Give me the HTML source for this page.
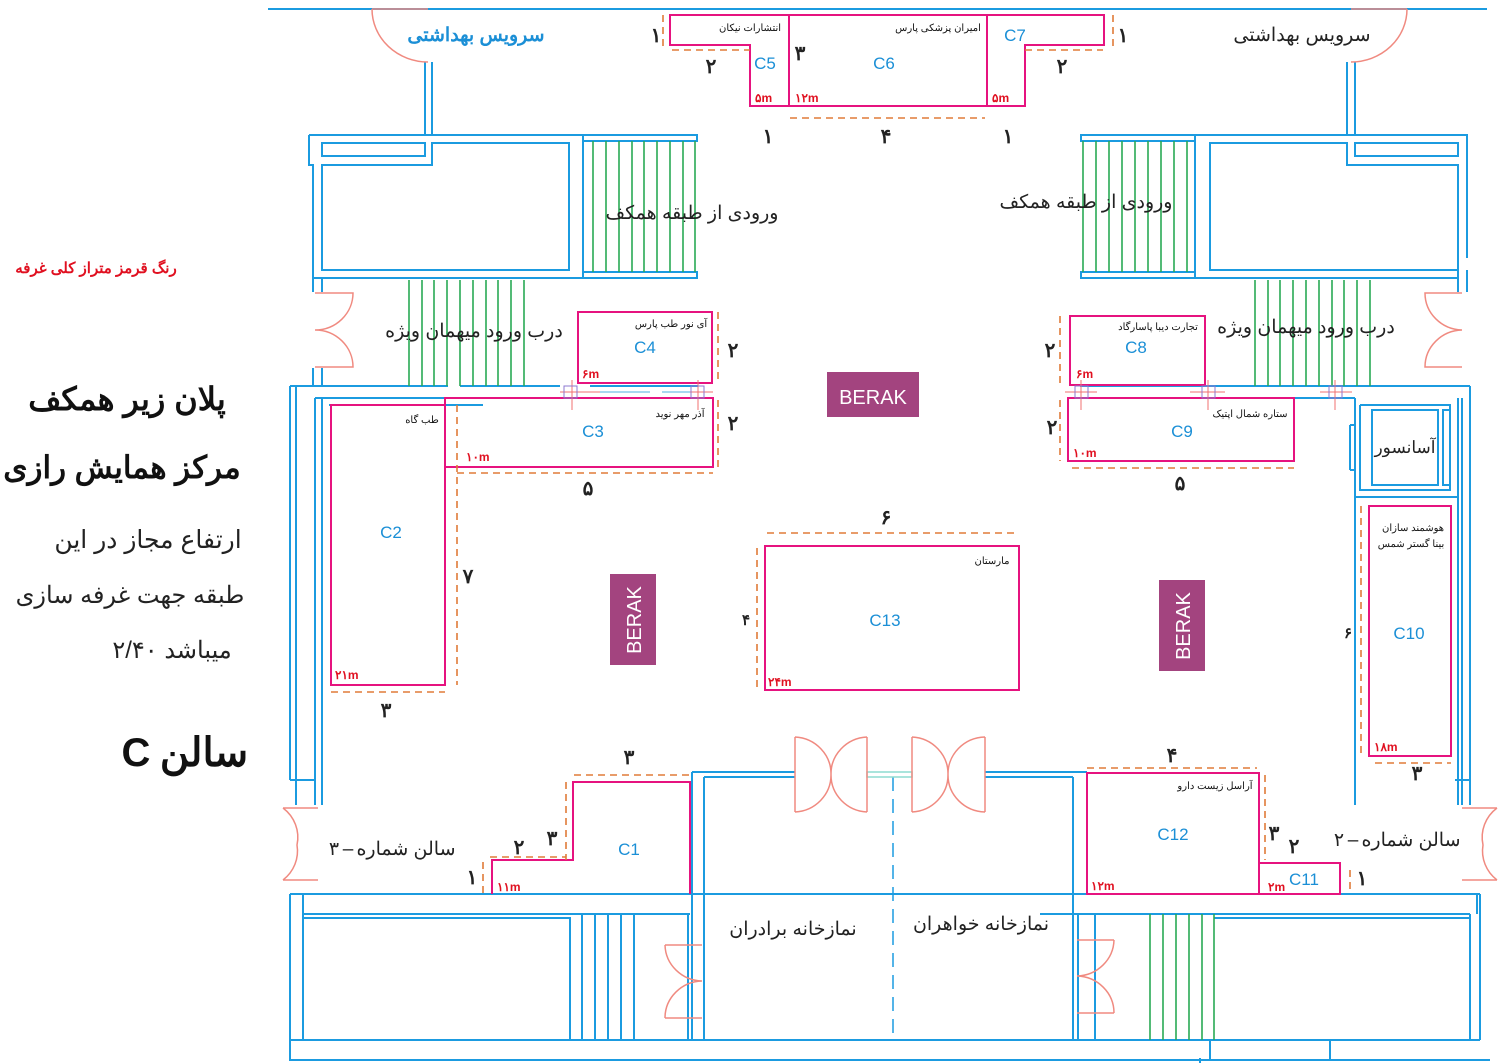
<!DOCTYPE html>
<html><head><meta charset="utf-8"><style>
html,body{margin:0;padding:0;background:#fff}
svg{display:block}
text{font-family:"Liberation Sans","Noto Sans CJK SC",sans-serif}
.r text,text.r{direction:rtl;unicode-bidi:embed}
</style></head><body>
<svg width="1500" height="1063" viewBox="0 0 1500 1063" xmlns="http://www.w3.org/2000/svg">
<g fill="none" stroke="#1b9be0" stroke-width="2">
<line x1="268" y1="9" x2="1487" y2="9"/>
<path d="M425 62 V135 M432 62 V135 M309 135 H697 M309 135 V165 H313 V278 H583"/>
<rect x="322" y="143" width="103" height="13"/>
<path d="M432 143 H569 V270 H322 V165 H432 Z"/>
<rect x="583" y="135" width="114" height="6"/>
<rect x="583" y="272" width="114" height="6"/>
<line x1="583" y1="135" x2="583" y2="278"/>
<path d="M313 278 V292 M322 278 V292 M313 368 V386 M322 368 V386"/>
<path d="M1347 62 V135 M1355 62 V135 M1081 135 H1467 V258 M1467 270 V292"/>
<rect x="1355" y="143" width="103" height="13"/>
<path d="M1347 143 H1210 V270 H1458 V165 H1347 Z"/>
<rect x="1081" y="135" width="114" height="6"/>
<rect x="1081" y="272" width="114" height="6"/>
<path d="M1195 135 V278 M1195 278 H1458 M1458 270 V292"/>
<path d="M290 386 H448 M460 386 H560 M315 398 H560 M290 386 V780 M296 386 V780 M315 398 V805 M322 398 V805 M329 405 H483"/>
<path d="M290 780 H315 V805 M296 780 V805"/>
<path d="M590 386 H698 M590 398 H698"/>
<path d="M1080 386 H1470 M1080 398 H1355 M1355 398 V497 H1458 V398 M1360 405 V490 H1450 V405 H1360 M1372 410 H1438 V485 H1372 Z M1443 410 H1450 V485 H1443 Z M1470 386 V780 M1462 398 V780 M1355 497 V805 M1458 497 V805"/>
<path d="M1350 425 H1355 M1350 470 H1355 M1350 425 V470"/>
<path d="M1455 780 H1470 V805 M1462 780 V805"/>
<path d="M290 894 H1480 M303 894 V914 M1477 894 V914 M303 914 H690 M1040 914 H1470 M303 914 V1040 M1470 914 V1040 M290 894 V1060 H1490 M290 1040 H1480 M1480 894 V1040 M1210 1040 V1060 M1330 1040 V1060 M1200 1058 V1063"/>
<path d="M304 918 H570 V1040 M1214 918 H1470"/>
<path d="M582 914 V1040 M595 914 V1040 M608 914 V1040 M621 914 V1040 M634 914 V1040 M688 914 V1040"/>
<path d="M692 772 H795 M704 777 H795 M704 777 V1040 M692 772 V1040 M985 772 H1087 M985 777 H1073 M1073 777 V1040 M1078 914 V1040 M1095 914 V1040"/>
</g>
<line x1="893" y1="777" x2="893" y2="1040" stroke="#1b9be0" stroke-width="1.5" stroke-dasharray="14,8"/>
<rect x="867" y="772" width="45" height="5" fill="none" stroke="#8ddbd0" stroke-width="1.5"/>
<g stroke="#2aaa55" stroke-width="1.6">
<path d="M593 141 V272 M606 141 V272 M619 141 V272 M632 141 V272 M644 141 V272 M657 141 V272 M670 141 V272 M683 141 V272 M695 141 V272"/>
<path d="M1083 141 V272 M1096 141 V272 M1109 141 V272 M1122 141 V272 M1135 141 V272 M1148 141 V272 M1161 141 V272 M1174 141 V272 M1187 141 V272"/>
<path d="M409 280 V386 M422 280 V386 M434 280 V386 M447 280 V386 M460 280 V386 M473 280 V386 M486 280 V386 M498 280 V386 M511 280 V386 M524 280 V386"/>
<path d="M1255 280 V386 M1268 280 V386 M1280 280 V386 M1293 280 V386 M1306 280 V386 M1319 280 V386 M1332 280 V386 M1344 280 V386 M1357 280 V386 M1370 280 V386"/>
<path d="M1150 914 V1040 M1163 914 V1040 M1176 914 V1040 M1189 914 V1040 M1202 914 V1040 M1214 914 V1040"/>
</g>
<g fill="none" stroke="#f08a80" stroke-width="1.5">
<path d="M372 9 A56 53 0 0 0 428 62 M372 9 H428"/>
<path d="M1407 9 A56 53 0 0 1 1351 62 M1351 9 H1407"/>
<path d="M315 293 H353 A38 37 0 0 1 315 330 A38 37 0 0 1 353 367 H315"/>
<path d="M1462 293 H1425 A38 37 0 0 0 1462 330 A38 37 0 0 0 1425 367 H1462"/>
<path d="M283 808 H318 M283 880 H318 M283 808 A38 37 0 0 1 297 845 A38 37 0 0 1 283 880"/>
<path d="M1497 808 H1462 M1497 880 H1462 M1497 808 A38 37 0 0 0 1483 845 A38 37 0 0 0 1497 880"/>
<path d="M795 737 V812 M867 737 V812 M795 737 A38 37 0 0 1 831 775 A38 37 0 0 1 795 812 M867 737 A38 37 0 0 0 831 775 A38 37 0 0 0 867 812"/>
<path d="M912 737 V812 M985 737 V812 M912 737 A38 37 0 0 1 948 775 A38 37 0 0 1 912 812 M985 737 A38 37 0 0 0 948 775 A38 37 0 0 0 985 812"/>
<path d="M665 945 H702 M665 1018 H702 M665 945 A38 37 0 0 0 702 981 A38 37 0 0 0 665 1018"/>
<path d="M1077 940 H1114 M1077 1013 H1114 M1114 940 A38 37 0 0 1 1077 976 A38 37 0 0 1 1114 1013"/>
</g>
<g fill="none" stroke="#e6137f" stroke-width="2">
<path d="M670 15 H1104 V45 H1025 V106 H750 V45 H670 Z M789 15 V106 M987 15 V106"/>
<rect x="578" y="312" width="134" height="71"/>
<rect x="445" y="398" width="268" height="69"/>
<rect x="331" y="405" width="114" height="280"/>
<rect x="1070" y="316" width="135" height="69"/>
<rect x="1068" y="398" width="226" height="63"/>
<rect x="765" y="546" width="254" height="144"/>
<rect x="1369" y="506" width="82" height="250"/>
<path d="M492 894 V860 H573 V782 H690 V894"/>
<rect x="1087" y="773" width="172" height="121"/>
<rect x="1259" y="863" width="81" height="31"/>
</g>
<g fill="none" stroke="#e07b39" stroke-width="1.6" stroke-dasharray="7,5">
<path d="M663 15 V50 M672 50 H750 M790 118 H985 M1025 50 H1103 M1113 15 V50"/>
<path d="M718 312 V383 M718 400 V467 M457 473 H713 M457 405 V685 M331 692 H445"/>
<path d="M1060 316 V385 M1060 400 V461 M1072 468 H1294 M767 533 H1019 M757 548 V692 M1361 506 V756 M1375 763 H1451"/>
<path d="M574 775 H690 M566 782 V860 M490 857 H566 M483 862 V894 M1087 768 H1257 M1265 775 V860 M1350 870 V894"/>
</g>
<g stroke="#f07070" stroke-width="1"><path d="M560 392 H600 M572 380 V410 M686 392 H713 M698 380 V410 M1065 392 H1097 M1081 380 V410 M1190 392 H1225 M1208 380 V410 M1320 392 H1352 M1335 380 V410"/></g>
<g fill="none" stroke="#8c78d0" stroke-width="1"><rect x="564" y="386" width="13" height="12"/><rect x="691" y="386" width="13" height="12"/><rect x="1075" y="386" width="13" height="12"/><rect x="1202" y="386" width="13" height="12"/><rect x="1329" y="386" width="13" height="12"/></g>
<line x1="600" y1="392" x2="690" y2="392" stroke="#a8d8f0" stroke-width="2" stroke-dasharray="50,12"/>
<rect x="827" y="372" width="92" height="45" fill="#a3447f"/>
<text x="873" y="404" fill="#fff" font-size="20" text-anchor="middle">BERAK</text>
<rect x="610" y="574" width="46" height="91" fill="#a3447f"/>
<text transform="translate(641,620) rotate(-90)" fill="#fff" font-size="20" text-anchor="middle">BERAK</text>
<rect x="1159" y="580" width="46" height="91" fill="#a3447f"/>
<text transform="translate(1190,626) rotate(-90)" fill="#fff" font-size="20" text-anchor="middle">BERAK</text>
<g fill="#1b8fd6" font-size="17" text-anchor="middle">
<text x="765" y="69">C5</text><text x="884" y="69">C6</text><text x="1015" y="41">C7</text>
<text x="645" y="353">C4</text><text x="593" y="437">C3</text><text x="391" y="538">C2</text>
<text x="1136" y="353">C8</text><text x="1182" y="437">C9</text><text x="885" y="626">C13</text>
<text x="1409" y="639">C10</text><text x="629" y="855">C1</text><text x="1173" y="840">C12</text><text x="1304" y="885">C11</text>
</g>
<g fill="#e01020" font-size="12" font-weight="bold">
<text x="755" y="102">۵m</text><text x="795" y="102">۱۲m</text><text x="992" y="102">۵m</text>
<text x="582" y="378">۶m</text><text x="466" y="461">۱۰m</text><text x="335" y="679">۲۱m</text>
<text x="1076" y="378">۶m</text><text x="1073" y="457">۱۰m</text><text x="768" y="686">۲۴m</text>
<text x="1374" y="751">۱۸m</text><text x="497" y="891">۱۱m</text><text x="1091" y="890">۱۲m</text><text x="1268" y="891">۲m</text>
</g>
<g class="r" fill="#111" font-size="10" text-anchor="middle">
<text x="750" y="31">انتشارات نیکان</text><text x="938" y="31">امیران پزشکی پارس</text>
<text x="671" y="327">آی نور طب پارس</text><text x="680" y="417">آذر مهر نوید</text><text x="422" y="423">طب گاه</text>
<text x="1158" y="330">تجارت دیبا پاسارگاد</text><text x="1250" y="417">ستاره شمال اپتیک</text>
<text x="992" y="564">مارستان</text><text x="1413" y="531">هوشمند سازان</text><text x="1411" y="547">بینا گستر شمس</text>
<text x="1215" y="789">آراسل زیست دارو</text>
</g>
<g fill="#222" font-size="20" text-anchor="middle" font-weight="bold">
<text x="656" y="42">۱</text><text x="711" y="73">۲</text><text x="800" y="60">۳</text><text x="768" y="143">۱</text><text x="886" y="143">۴</text><text x="1008" y="143">۱</text><text x="1062" y="73">۲</text><text x="1123" y="42">۱</text>
<text x="733" y="357">۲</text><text x="733" y="430">۲</text><text x="588" y="495">۵</text><text x="468" y="583">۷</text><text x="386" y="717">۳</text>
<text x="1050" y="357">۲</text><text x="1052" y="434">۲</text><text x="1180" y="490">۵</text><text x="886" y="524">۶</text><text x="746" y="625" font-size="15">۴</text><text x="1348" y="638" font-size="15">۶</text>
<text x="1417" y="780">۳</text><text x="1172" y="762">۴</text><text x="629" y="764">۳</text><text x="552" y="845">۳</text><text x="519" y="854">۲</text><text x="472" y="884">۱</text>
<text x="1274" y="840">۳</text><text x="1294" y="853">۲</text><text x="1362" y="885">۱</text>
</g>
<g fill="#222" font-size="19" text-anchor="middle">
<text x="334" y="855">۳</text><text x="348" y="855">–</text>
<text x="1339" y="846">۲</text><text x="1353" y="846">–</text>
</g>
<g class="r" fill="#222" font-size="19" text-anchor="middle">
<text x="692" y="219">ورودی از طبقه همکف</text>
<text x="1086" y="208">ورودی از طبقه همکف</text>
<text x="474" y="337">درب ورود میهمان ویژه</text>
<text x="1306" y="333">درب ورود میهمان ویژه</text>
<text x="1302" y="41">سرویس بهداشتی</text>
<text x="1405" y="453" font-size="17">آسانسور</text>
<text x="406" y="855">سالن شماره</text>
<text x="1411" y="846">سالن شماره</text>
<text x="793" y="935">نمازخانه برادران</text>
<text x="981" y="930">نمازخانه خواهران</text>
</g>
<g class="r">
<text x="476" y="41" fill="#1b8fd6" font-size="19" font-weight="bold" text-anchor="middle">سرویس بهداشتی</text>
<text x="96" y="273" fill="#e01020" font-size="15" font-weight="bold" text-anchor="middle">رنگ قرمز متراز کلی غرفه</text>
<text x="127" y="410" fill="#111" font-size="32" font-weight="bold" text-anchor="middle">پلان زیر همکف</text>
<text x="122" y="478" fill="#111" font-size="31" font-weight="bold" text-anchor="middle">مرکز همایش رازی</text>
<text x="148" y="548" fill="#222" font-size="25" text-anchor="middle">ارتفاع مجاز در این</text>
<text x="130" y="603" fill="#222" font-size="24" text-anchor="middle">طبقه جهت غرفه سازی</text>
<text x="198" y="658" fill="#222" font-size="24" text-anchor="middle">میباشد</text>
<text x="135" y="658" fill="#222" font-size="24" text-anchor="middle">۲/۴۰</text>
<text x="204" y="766" fill="#111" font-size="40" font-weight="bold" text-anchor="middle">سالن</text>
<text x="136" y="766" fill="#111" font-size="40" font-weight="bold" text-anchor="middle">C</text>
</g>
</svg>
</body></html>
